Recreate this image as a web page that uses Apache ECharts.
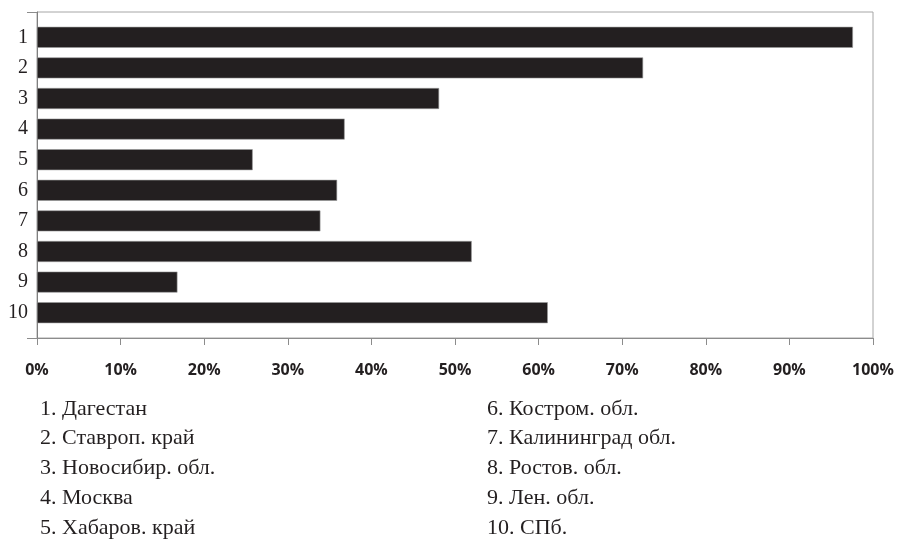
<!DOCTYPE html>
<html>
<head>
<meta charset="utf-8">
<script src="https://cdn.jsdelivr.net/npm/echarts@6/dist/echarts.min.js"></script>
<style>
  html, body { margin: 0; padding: 0; background: #fff; }
  #chart { width: 899px; height: 545px; }
</style>
</head>
<body>
<div id="chart"></div>
<script>
const categories = ['1', '2', '3', '4', '5', '6', '7', '8', '9', '10']
const values = [97.6, 72.5, 48.1, 36.8, 25.8, 35.9, 33.9, 52.0, 16.8, 61.1]
const legendLeft = ['1. Дагестан', '2. Ставроп. край', '3. Новосибир. обл.', '4. Москва', '5. Хабаров. край']
const legendRight = ['6. Костром. обл.', '7. Калининград обл.', '8. Ростов. обл.', '9. Лен. обл.', '10. СПб.']

const serif = '"Liberation Serif", "DejaVu Serif", serif'
const barColor = '#231f20'

const chart = echarts.init(document.getElementById('chart'))

const legendStyle = {
  fontFamily: serif,
  fontSize: 22,
  fontWeight: 'normal',
  color: '#231f20',
  lineHeight: 29.8
}

const option = {
  animation: false,
  title: [
    { text: legendLeft.join('\n'), left: 35, top: 389, textStyle: legendStyle },
    { text: legendRight.join('\n'), left: 482, top: 389, textStyle: legendStyle }
  ],
  grid: [
    // frame with percent axis
    { left: 37, right: 26, top: 12, bottom: 207, show: true, borderColor: '#a6a6a6', borderWidth: 1 },
    // bars
    { left: 37, right: 26, top: 22, bottom: 217 }
  ],
  xAxis: [
    {
      gridIndex: 0,
      type: 'value',
      min: 0,
      max: 100,
      interval: 10,
      axisLine: { show: true, lineStyle: { color: '#8c8c8c', width: 1 } },
      axisTick: { show: true, length: 7, lineStyle: { color: '#8c8c8c' } },
      splitLine: { show: false },
      axisLabel: {
        formatter: '{value}%',
        margin: 24,
        fontFamily: '"Open Sans", sans-serif',
        fontWeight: 'bold',
        fontSize: 16,
        color: '#231f20'
      }
    },
    {
      gridIndex: 1,
      type: 'value',
      min: 0,
      max: 100,
      show: false
    }
  ],
  yAxis: [
    {
      gridIndex: 0,
      type: 'value',
      min: 0,
      max: 1,
      interval: 1,
      axisLine: { show: true, lineStyle: { color: '#7f7f7f', width: 1 } },
      axisTick: { show: true, length: 10, lineStyle: { color: '#8c8c8c' } },
      axisLabel: { show: false },
      splitLine: { show: false }
    },
    {
      gridIndex: 1,
      type: 'category',
      inverse: true,
      data: categories,
      axisLine: { show: false },
      axisTick: { show: false },
      axisLabel: {
        margin: 9,
        fontFamily: serif,
        fontSize: 20,
        color: '#231f20'
      }
    }
  ],
  series: [
    {
      type: 'bar',
      xAxisIndex: 1,
      yAxisIndex: 1,
      data: values,
      barWidth: 21,
      itemStyle: {
        color: barColor,
        borderColor: '#9a9a9a',
        borderWidth: 0.6
      }
    }
  ]
}

chart.setOption(option)
</script>
</body>
</html>
